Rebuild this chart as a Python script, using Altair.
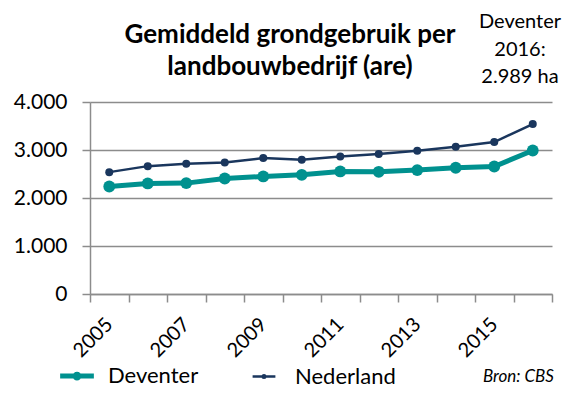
import altair as alt
import pandas as pd

YEARS = [2005, 2006, 2007, 2008, 2009, 2010, 2011, 2012, 2013, 2014, 2015, 2016]
DEVENTER = [2240, 2303, 2310, 2407, 2449, 2483, 2553, 2546, 2581, 2630, 2657, 2989]
NEDERLAND = [2539, 2664, 2713, 2741, 2831, 2797, 2866, 2915, 2984, 3068, 3165, 3541]
SERIES = ["Deventer", "Nederland"]
COLORS = ["#00918f", "#1a365d"]
LINE_WIDTHS = [5, 2.5]
POINT_SIZES = [140, 64]
Y_TICKS = [0, 1000, 2000, 3000, 4000]
TITLE = ["Gemiddeld grondgebruik per", "landbouwbedrijf (are)"]
NOTE = ["Deventer", "2016:", "2.989 ha"]
SOURCE = ["Bron: CBS"]

FONT = "Lato"
GRID = "#8c8c8c"

rows = []
for s, vals in zip(SERIES, [DEVENTER, NEDERLAND]):
    for y, v in zip(YEARS, vals):
        rows.append({"jaar": y, "serie": s, "waarde": v})
df = pd.DataFrame(rows)

legend_path = ("M-2.85,0L2.85,0"
               "M0.32,0A0.32,0.32,0,1,1,-0.32,0A0.32,0.32,0,1,1,0.32,0"
               "M0.12,0A0.12,0.12,0,1,1,-0.12,0A0.12,0.12,0,1,1,0.12,0")

legend_props = dict(
    title=None, orient="none", direction="horizontal", legendX=-24, legendY=263,
    symbolType=legend_path, symbolSize=400,
    labelFont=FONT, labelFontSize=22, labelColor="black", labelOffset=20,
    columnPadding=48,
)

x_enc = alt.X(
    "jaar:O",
    scale=alt.Scale(type="band", paddingInner=0, paddingOuter=0),
    bandPosition=0.5,
    axis=alt.Axis(
        title=None, tickBand="extent", labelAngle=-45, labelAlign="right",
        labelBaseline="middle",
        labelExpr="datum.value % 2 == 1 ? datum.label : ''",
        labelOverlap=False, labelFontSize=20, labelFont=FONT, labelColor="black",
        labelPadding=19, tickSize=8, tickColor=GRID, tickWidth=1.5,
        domainColor=GRID, domainWidth=1.5, grid=False,
    ),
)
y_enc = alt.Y(
    "waarde:Q",
    scale=alt.Scale(domain=[0, 4000], nice=False),
    axis=alt.Axis(
        title=None, values=Y_TICKS,
        labelExpr="replace(format(datum.value, ','), ',', '.')",
        labelFontSize=21, labelFont=FONT, labelColor="black", labelPadding=15,
        tickSize=8, tickColor=GRID, tickWidth=1.5, domainColor=GRID, domainWidth=1.5,
        grid=True, gridColor=GRID, gridWidth=1.5,
    ),
)
color_enc = alt.Color(
    "serie:N",
    scale=alt.Scale(domain=SERIES, range=COLORS),
    legend=alt.Legend(**legend_props),
)
sw_enc = alt.StrokeWidth(
    "serie:N",
    scale=alt.Scale(domain=SERIES, range=LINE_WIDTHS),
    legend=alt.Legend(**legend_props),
)

base = alt.Chart(df)
lines = base.mark_line().encode(x=x_enc, y=y_enc, color=color_enc, strokeWidth=sw_enc)
points = base.mark_circle(opacity=1).encode(
    x=x_enc, y=y_enc,
    color=alt.Color("serie:N", scale=alt.Scale(domain=SERIES, range=COLORS), legend=None),
    size=alt.Size("serie:N", scale=alt.Scale(domain=SERIES, range=POINT_SIZES), legend=None),
)

title = alt.Chart(pd.DataFrame({"t": [0]})).mark_text(
    text=TITLE, font=FONT, fontSize=26, fontWeight="bold", color="black",
    align="center", baseline="alphabetic", lineHeight=32,
).encode(x=alt.value(200), y=alt.value(-59))

note = alt.Chart(pd.DataFrame({"t": [0]})).mark_text(
    text=NOTE, font=FONT, fontSize=20, color="black", align="center",
    baseline="alphabetic", lineHeight=27.5,
).encode(x=alt.value(430), y=alt.value(-74))

source = alt.Chart(pd.DataFrame({"t": SOURCE})).mark_text(
    font=FONT, fontSize=17, fontStyle="italic", color="black", align="right",
    baseline="middle",
).encode(text="t:N", x=alt.value(464), y=alt.value(275))

chart = alt.layer(lines, points, title, note, source).properties(
    width=462, height=192,
    autosize=alt.AutoSizeParams(type="none"),
    padding={"left": 82, "top": 94, "right": 10, "bottom": 94},
).configure_view(stroke=None)

chart.save("out.html", embed_options={"renderer": "svg", "actions": False})
